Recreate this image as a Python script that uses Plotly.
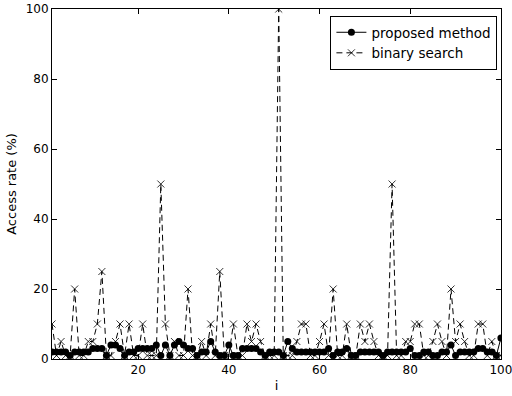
import plotly.graph_objects as go

idx = list(range(1, 101))

proposed = [2, 2, 2, 2, 1, 2, 2, 2, 2, 3,
            3, 3, 1, 4, 4, 3, 1, 2, 2, 3,
            3, 3, 3, 4, 1, 4, 1, 4, 5, 4,
            3, 3, 1, 2, 2, 5, 2, 1, 1, 4,
            1, 1, 3, 3, 3, 3, 2, 1, 2, 2,
            2, 1, 5, 3, 2, 2, 2, 2, 2, 2,
            2, 3, 1, 2, 2, 3, 1, 1, 2, 2,
            2, 2, 2, 1, 2, 2, 2, 2, 2, 3,
            1, 1, 2, 2, 1, 1, 2, 2, 4, 1,
            2, 2, 2, 2, 3, 3, 2, 2, 1, 6]

binary = [10, 1, 5, 1, 1, 20, 1, 1, 5, 5,
          10, 25, 1, 1, 5, 10, 1, 10, 1, 1,
          10, 1, 1, 1, 50, 10, 1, 5, 1, 1,
          20, 1, 1, 5, 1, 10, 1, 25, 1, 1,
          10, 1, 1, 10, 5, 10, 5, 1, 1, 1,
          100, 1, 1, 1, 5, 10, 10, 1, 1, 5,
          10, 1, 20, 1, 1, 10, 1, 1, 10, 5,
          10, 5, 1, 1, 1, 50, 1, 1, 5, 5,
          10, 10, 1, 1, 5, 10, 5, 1, 20, 5,
          10, 5, 1, 1, 10, 10, 1, 5, 1, 1]

x_ticks = [20, 40, 60, 80, 100]
y_ticks = [0, 20, 40, 60, 80, 100]

fig = go.Figure()
fig.add_trace(go.Scatter(
    x=idx, y=proposed, name="proposed method", mode="lines+markers",
    line=dict(color="black", width=1),
    marker=dict(symbol="circle", size=7, color="black"),
))
fig.add_trace(go.Scatter(
    x=idx, y=binary, name="binary search", mode="lines+markers",
    line=dict(color="black", width=1, dash="6px,4px"),
    marker=dict(symbol="x-thin", size=7, color="black",
                line=dict(color="black", width=0.8)),
))

axis_common = dict(
    showline=True, linecolor="black", linewidth=1, mirror="allticks",
    ticks="inside", ticklen=5, tickcolor="black", tickwidth=1,
    showgrid=False, zeroline=False, automargin=False,
    ticklabeloverflow="allow",
    tickfont=dict(family="DejaVu Sans", size=12, color="black"),
)

fig.update_layout(
    width=512, height=396,
    margin=dict(l=52, r=11, t=9, b=37),
    paper_bgcolor="white", plot_bgcolor="white",
    font=dict(family="DejaVu Sans", color="black"),
    xaxis=dict(range=[1, 100.02], tickvals=x_ticks,
               title=dict(text="i", font=dict(size=13), standoff=4),
               **axis_common),
    yaxis=dict(range=[0, 100.02], tickvals=y_ticks,
               title=dict(text="Access rate (%)", font=dict(size=13), standoff=6),
               **axis_common),
    legend=dict(x=0.992, y=0.98, xanchor="right", yanchor="top",
                bordercolor="black", borderwidth=1, bgcolor="white",
                font=dict(size=13.5, family="DejaVu Sans"),
                tracegroupgap=0, itemwidth=30),
    showlegend=True,
)

fig.write_html("out.html", config={"displayModeBar": False},
               post_script="document.body.style.margin='0px';")
